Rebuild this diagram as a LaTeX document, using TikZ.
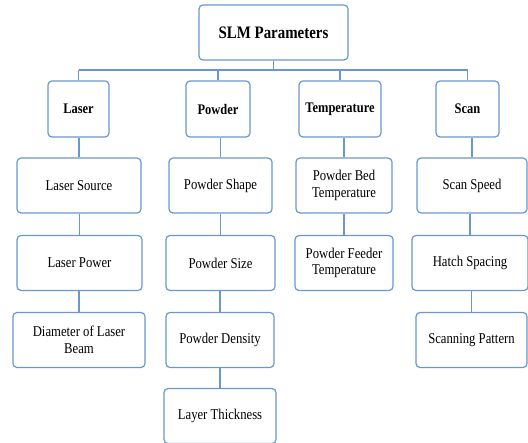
\documentclass[tikz,border=0pt]{standalone}
\usepackage{fontspec}
\setmainfont{Liberation Serif}[FakeStretch=0.85]
\definecolor{boxblue}{RGB}{104,152,207}
\begin{document}
\begin{tikzpicture}[x={(1bp,0)},y={(0,-1bp)},
box/.style={draw=boxblue,line width=1.2pt,rounded corners=4bp,fill=white,align=center,
inner sep=2pt,font=\fontsize{15}{16.7}\selectfont},
head/.style={box,font=\fontsize{14.7}{17}\selectfont\bfseries},
link/.style={draw=boxblue,line width=1.2pt}]
\useasboundingbox (0,0) rectangle (528,443);
\node[head,font=\fontsize{17.6}{20}\selectfont\bfseries,minimum width=149bp,minimum height=55bp] (top) at (273.5,32.5) {SLM Parameters};
\coordinate (bus) at (0,70);
\foreach \c/\x/\w/\t in {Laser/78.5/61/Laser,Powder/218/64/Powder,Temp/340/82/Temperature,Scan/467.5/63/Scan}
{\node[head,minimum width=\w bp,minimum height=56bp] (\c) at (\x,109) {\t};}
% second level, column by column
\foreach \n/\x/\y/\w/\t in {L1/79/185.5/124/{Laser Source},L2/79.5/263/125/{Laser Power},
L3/79/340/132/{Diameter of Laser\\Beam},
P1/220.5/185.5/103/{Powder Shape},P2/220.5/263/109/{Powder Size},
P3/220/340/108/{Powder Density},P4/220/416/112/{Layer Thickness},
T1/344/185.5/96/{Powder Bed\\Temperature},T2/344/263/98/{Powder Feeder\\Temperature},
S1/472/185.5/110/{Scan Speed},S2/470/263/116/{Hatch Spacing},S3/471.5/340/111/{Scanning Pattern}}
{\node[box,minimum width=\w bp,minimum height=55bp] (\n) at (\x,\y) {\t};}
\draw[link] (top.south) -- (top.south |- bus);
\draw[link] (Laser.north |- bus) -- (Scan.north |- bus);
\foreach \c in {Laser,Powder,Temp,Scan}
{\draw[link] (\c.north) -- (\c.north |- bus);}
\foreach \a/\b in {Laser/L1,L1/L2,L2/L3,Powder/P1,P1/P2,P2/P3,P3/P4,Temp/T1,T1/T2,Scan/S1,S1/S2,S2/S3}
{\draw[link] (\b.north) -- (\b.north |- \a.south);}
\end{tikzpicture}
\end{document}
